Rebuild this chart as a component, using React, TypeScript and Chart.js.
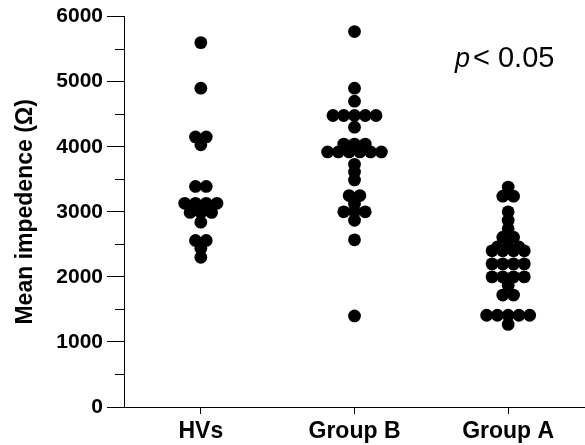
import React, { useEffect, useRef } from "react";
import { Chart, registerables } from "chart.js";

Chart.register(...registerables);

const categories = ["HVs", "Group B", "Group A"];

const hvsValues = [
  5600, 4900, 4150, 4150, 4030, 3390, 3390, 3130, 3130, 3130, 3130,
  2990, 2990, 2990, 2840, 2560, 2560, 2440, 2300,
];

const groupBValues = [
  5770, 4900, 4700, 4480, 4480, 4480, 4480, 4480, 4300, 4040, 4040, 4040,
  3920, 3920, 3920, 3920, 3920, 3920, 3730, 3610, 3490, 3250, 3250, 3120,
  3000, 3000, 3000, 2870, 2570, 1400,
];

const groupAValues = [
  3380, 3240, 3240, 3000, 2870, 2740, 2610, 2610, 2460, 2460, 2460,
  2400, 2400, 2400, 2400, 2200, 2200, 2200, 2200, 2000, 2000, 2000, 2000,
  1870, 1720, 1720, 1410, 1410, 1410, 1410, 1410, 1270,
];

const yTicks = [0, 1000, 2000, 3000, 4000, 5000, 6000];
const yMinorTicks = [500, 1500, 2500, 3500, 4500, 5500];
const annotationItalic = "p";
const annotationRest = "< 0.05";

const FONT = '"Liberation Sans", Arial, Helvetica, sans-serif';
const SPREAD = 0.07;

function swarm(values: number[], groupIndex: number) {
  const counts = new Map<number, number>();
  values.forEach((v) => counts.set(v, (counts.get(v) || 0) + 1));
  const seen = new Map<number, number>();
  return values.map((v) => {
    const n = counts.get(v) || 1;
    const i = seen.get(v) || 0;
    seen.set(v, i + 1);
    return { x: groupIndex + 1 + (i - (n - 1) / 2) * SPREAD, y: v };
  });
}

const extrasPlugin = {
  id: "extras",
  afterDraw(chart: any) {
    const ctx = chart.ctx;
    const yScale = chart.scales.y;
    const left = chart.chartArea.left;
    ctx.save();
    ctx.strokeStyle = "#000";
    ctx.lineWidth = 1;
    yMinorTicks.forEach((v) => {
      const py = Math.round(yScale.getPixelForValue(v)) + 0.5;
      ctx.beginPath();
      ctx.moveTo(left - 9, py);
      ctx.lineTo(left, py);
      ctx.stroke();
    });
    ctx.fillStyle = "#000";
    ctx.textBaseline = "alphabetic";
    ctx.textAlign = "left";
    const base = 67;
    ctx.font = `italic 27px ${FONT}`;
    ctx.fillText(annotationItalic, 455, base);
    ctx.font = `29px ${FONT}`;
    ctx.fillText(annotationRest, 473, base);
    ctx.restore();
  },
};

export default function App() {
  const ref = useRef<HTMLCanvasElement>(null);
  useEffect(() => {
    document.body.style.margin = "0";
    const canvas = ref.current;
    if (!canvas) return;
    const data = [
      ...swarm(hvsValues, 0),
      ...swarm(groupBValues, 1),
      ...swarm(groupAValues, 2),
    ];
    const chart = new Chart(canvas, {
      type: "scatter",
      data: {
        datasets: [
          {
            data,
            backgroundColor: "#000",
            borderWidth: 0,
            pointRadius: 6.4,
            pointHoverRadius: 6.4,
            clip: false,
          },
        ],
      },
      options: {
        responsive: false,
        animation: false,
        events: [],
        layout: {
          autoPadding: false,
          padding: { top: 16, right: 0, bottom: 0, left: 0 },
        },
        plugins: {
          legend: { display: false },
          tooltip: { enabled: false },
        },
        scales: {
          x: {
            type: "linear",
            min: 0.5,
            max: 3.5,
            afterBuildTicks: (axis: any) => {
              axis.ticks = categories.map((_, i) => ({ value: i + 1 }));
            },
            afterFit: (axis: any) => {
              axis.height = 38;
              axis.paddingRight = 0;
              axis.paddingLeft = 0;
            },
            ticks: {
              color: "#000",
              font: { family: FONT, size: 23, weight: "bold" },
              padding: 4,
              maxRotation: 0,
              callback: (v: any) => categories[Math.round(Number(v)) - 1] ?? "",
            },
            grid: {
              drawOnChartArea: false,
              drawTicks: true,
              tickLength: 7,
              color: "#000",
              lineWidth: 1,
            },
            border: { display: true, color: "#000", width: 1 },
          },
          y: {
            type: "linear",
            min: 0,
            max: 6000,
            afterBuildTicks: (axis: any) => {
              axis.ticks = yTicks.map((v) => ({ value: v }));
            },
            afterFit: (axis: any) => {
              axis.width = 124;
            },
            ticks: {
              color: "#000",
              font: { family: FONT, size: 21, weight: "bold" },
              padding: 4,
              callback: (v: any) => String(v),
            },
            grid: {
              drawOnChartArea: false,
              drawTicks: true,
              tickLength: 17,
              color: "#000",
              lineWidth: 1,
            },
            border: { display: true, color: "#000", width: 1 },
            title: {
              display: true,
              text: "Mean impedence (Ω)",
              color: "#000",
              font: { family: FONT, size: 23, weight: "bold" },
              padding: { top: 12, bottom: 0 },
            },
          },
        },
      },
      plugins: [extrasPlugin],
    });
    return () => chart.destroy();
  }, []);
  return (
    <div style={{ width: 585, height: 445 }}>
      <canvas ref={ref} width={585} height={445} style={{ display: "block" }} />
    </div>
  );
}
